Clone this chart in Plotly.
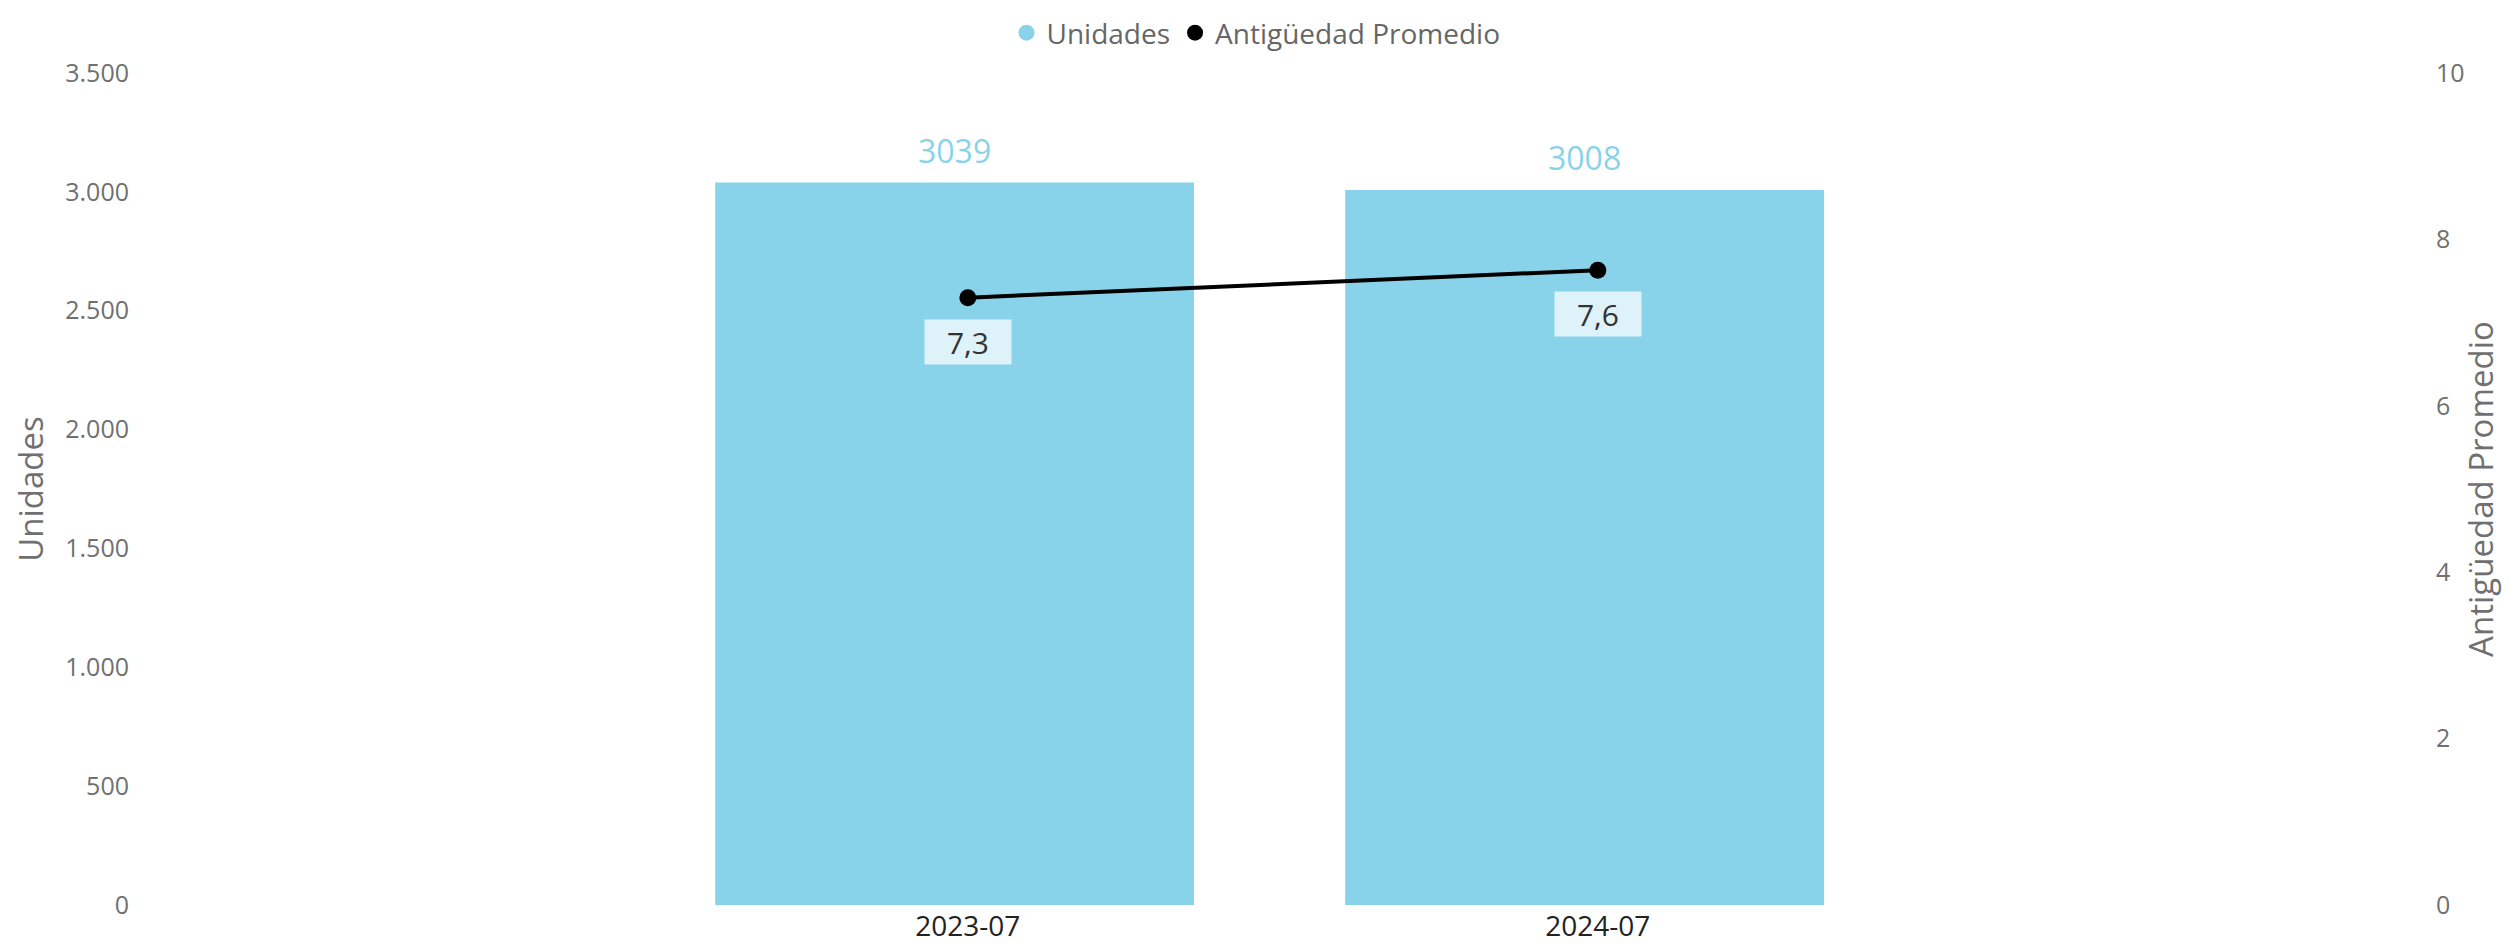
import plotly.graph_objects as go

# ---- data ----
categories = ["2023-07", "2024-07"]
unidades = [3039, 3008]
antiguedad = [7.3, 7.63]

# ---- style ----
BAR_COLOR = "#89d3ea"
FONT = "Open Sans"
TICK_COLOR = "#707070"
BAR_WIDTH = 0.76
BAR_SHIFT = -0.021

fig = go.Figure()

fig.add_trace(go.Bar(
    x=categories, y=unidades, name="Unidades",
    marker=dict(color=BAR_COLOR, line=dict(width=0)),
    width=BAR_WIDTH, offset=-BAR_WIDTH / 2 + BAR_SHIFT,
    showlegend=False, yaxis="y", hoverinfo="x+y",
))

fig.add_trace(go.Scatter(
    x=categories, y=antiguedad, name="Antigüedad Promedio",
    mode="lines+markers",
    line=dict(color="#000000", width=4),
    marker=dict(color="#000000", size=17),
    showlegend=False, yaxis="y2",
))

# legend proxies (circle symbols)
fig.add_trace(go.Scatter(x=[None], y=[None], mode="markers", name="Unidades",
                         marker=dict(color=BAR_COLOR, size=20, symbol="circle")))
fig.add_trace(go.Scatter(x=[None], y=[None], mode="markers", name="Antigüedad Promedio",
                         marker=dict(color="#000000", size=20, symbol="circle")))

annotations = []
for c, v in zip(categories, unidades):
    annotations.append(dict(
        x=c, y=v, xref="x", yref="y", text=str(v), showarrow=False,
        xshift=BAR_SHIFT * 630, yshift=32,
        font=dict(family=FONT, size=32, color=BAR_COLOR),
    ))
for c, v in zip(categories, antiguedad):
    annotations.append(dict(
        x=c, y=v, xref="x", yref="y2", text=f"{v:.1f}".replace(".", ","),
        showarrow=False, yshift=-44,
        font=dict(family=FONT, size=30, color="#333333"),
        bgcolor="#ddf2f9", borderpad=4, width=78, height=36,
    ))

fig.update_layout(
    width=2496, height=938,
    margin=dict(l=132, r=79, t=65, b=41, autoexpand=False),
    paper_bgcolor="white", plot_bgcolor="white",
    font=dict(family=FONT, color=TICK_COLOR),
    showlegend=True,
    legend=dict(orientation="h", xref="container", yref="container",
                x=0.5, xanchor="center", y=1.0, yanchor="top",
                font=dict(family=FONT, size=28, color="#666666"),
                itemwidth=30, tracegroupgap=0, itemclick=False),
    xaxis=dict(
        type="category", range=[-1.314, 2.313],
        showgrid=False, zeroline=False, showline=False, ticks="",
        ticklabelstandoff=2,
        tickfont=dict(family=FONT, size=28, color="#222222"),
    ),
    yaxis=dict(
        range=[0, 3500], tickvals=[0, 500, 1000, 1500, 2000, 2500, 3000, 3500],
        ticktext=["0", "500", "1.000", "1.500", "2.000", "2.500", "3.000", "3.500"],
        showgrid=False, zeroline=False, showline=False, ticks="",
        ticklabelstandoff=10,
        tickfont=dict(family=FONT, size=25, color=TICK_COLOR),
        title=dict(text="Unidades", font=dict(family=FONT, size=33, color=TICK_COLOR), standoff=14),
    ),
    yaxis2=dict(
        range=[0, 10], tickvals=[0, 2, 4, 6, 8, 10],
        overlaying="y", side="right",
        showgrid=False, zeroline=False, showline=False, ticks="",
        ticklabelstandoff=10,
        tickfont=dict(family=FONT, size=25, color=TICK_COLOR),
        title=dict(text="Antigüedad Promedio", font=dict(family=FONT, size=33, color=TICK_COLOR), standoff=6),
    ),
    annotations=annotations,
)

fig.write_html("out.html")
